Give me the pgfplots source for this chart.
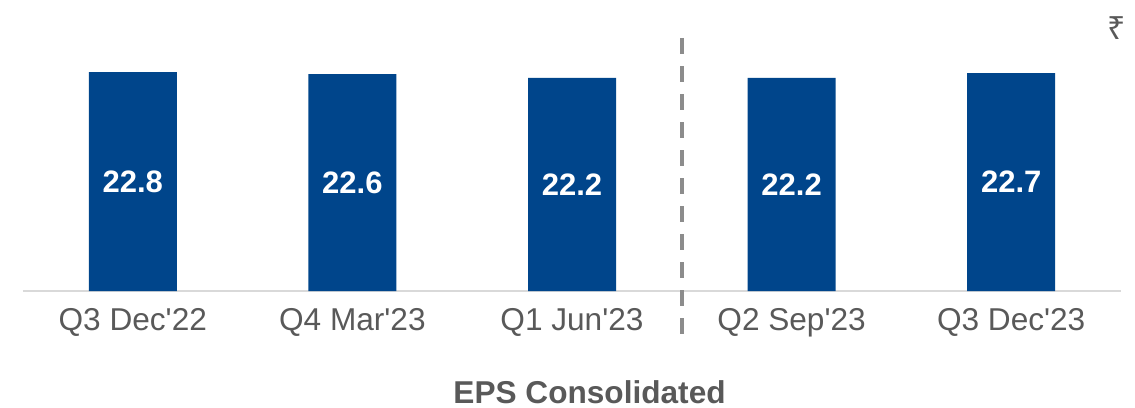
\documentclass[border=0pt]{standalone}
\usepackage{pgfplots}
\pgfplotsset{compat=1.18}
\usepackage{fontspec}
\setmainfont{Liberation Sans}
\newfontfamily\rupeefont{Noto Sans}
\definecolor{barblue}{HTML}{00458B}
\definecolor{txtgray}{HTML}{595959}
\definecolor{dashgray}{HTML}{8C8C8C}
\definecolor{axgray}{HTML}{D9D9D9}
\begin{document}
\begin{tikzpicture}
\useasboundingbox (-11pt,-58pt) rectangle (556.5pt,145.5pt);
\begin{axis}[
  at={(0.5pt,0)}, anchor=south west,
  scale only axis, width=549pt, height=126.5pt,
  xmin=-0.5, xmax=4.5, ymin=0, ymax=26.35,
  axis y line=none, axis x line*=bottom,
  x axis line style={axgray, line width=1pt, -},
  xtick={0,1,2,3,4},
  xticklabels={Q3 Dec\textquotesingle 22, Q4 Mar\textquotesingle 23, Q1 Jun\textquotesingle 23, Q2 Sep\textquotesingle 23, Q3 Dec\textquotesingle 23},
  major tick length=0pt,
  xticklabel style={font=\fontsize{15.8}{18}\selectfont, text=txtgray, yshift=-5pt},
  clip=false,
  ybar, bar width=44pt,
  visualization depends on=y \as \rawy,
  nodes near coords,
  every node near coord/.append style={font=\bfseries\fontsize{15.5}{18}\selectfont, text=white, anchor=center, shift={(axis direction cs:0,-\rawy/2)}},
  nodes near coords style={/pgf/number format/.cd, fixed, fixed zerofill, precision=1, assume math mode=true},
]
\addplot[fill=barblue, draw=none] coordinates {(0,22.8) (1,22.6) (2,22.2) (3,22.2) (4,22.7)};
\draw[dashgray, line width=2pt, dash pattern=on 8pt off 6pt] (axis cs:2.5,26.35) -- (axis cs:2.5,-4.6);
\node[font=\bfseries\fontsize{15.8}{18}\selectfont, text=txtgray] at (axis cs:2.08,-10.5) {EPS Consolidated};
\node[font=\rupeefont\fontsize{16}{18}\selectfont, text=txtgray] at (axis cs:4.48,27.4) {₹};
\end{axis}
\end{tikzpicture}
\end{document}
